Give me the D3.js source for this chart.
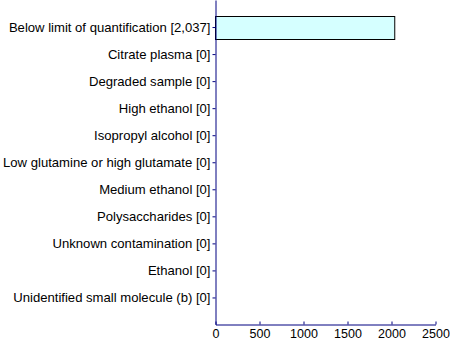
<!DOCTYPE html>
<html><head><meta charset="utf-8">
<script src="https://cdn.jsdelivr.net/npm/d3@7"></script>
<style>body{margin:0;background:#fff}svg{display:block}</style>
</head><body>
<svg id="c" width="450" height="342"></svg>
<script>
const categories = ["Below limit of quantification [2,037]","Citrate plasma [0]","Degraded sample [0]","High ethanol [0]","Isopropyl alcohol [0]","Low glutamine or high glutamate [0]","Medium ethanol [0]","Polysaccharides [0]","Unknown contamination [0]","Ethanol [0]","Unidentified small molecule (b) [0]"];
const values = [2037,0,0,0,0,0,0,0,0,0,0];
const xTicks = [0,500,1000,1500,2000,2500];

(function(){
const svg = d3.select("#c");
const mLeft = 215.5, mRight = 435.5, mTop = 0, mBottom = 324.5;
const x = d3.scaleLinear().domain([0,2500]).range([mLeft,mRight]);
const y = d3.scalePoint().domain(categories).range([mTop,mBottom]).padding(1);
const bh = 23;
const font = "Liberation Sans, Arial, sans-serif";

svg.selectAll("rect.bar").data(values.map((v,i)=>({v,c:categories[i]})).filter(d=>d.v>0))
  .enter().append("rect").attr("class","bar")
  .attr("x", x(0)).attr("y", d=>Math.round(y(d.c)-bh/2)+0.5)
  .attr("width", d=>x(d.v)-x(0)).attr("height", bh)
  .attr("fill","#d5ffff").attr("stroke","#000").attr("stroke-width",1);

const ya = svg.append("g").attr("transform",`translate(${mLeft},0)`)
  .call(d3.axisLeft(y).tickSize(3).tickSizeOuter(0).tickPadding(2));
ya.select(".domain").attr("stroke","#000080");
ya.selectAll(".tick line").attr("stroke","#000080");
ya.selectAll("text").attr("fill","#000").style("font-family",font).style("font-size","13.1px");

const xa = svg.append("g").attr("transform",`translate(0,${mBottom})`)
  .call(d3.axisBottom(x).tickValues(xTicks).tickFormat(d3.format("d")).tickSize(-3).tickSizeOuter(0).tickPadding(5));
xa.select(".domain").attr("stroke","#000080");
xa.selectAll(".tick line").attr("stroke","#000080");
xa.selectAll("text").attr("fill","#000").style("font-family",font).style("font-size","12.5px");
})();
</script>
</body></html>
